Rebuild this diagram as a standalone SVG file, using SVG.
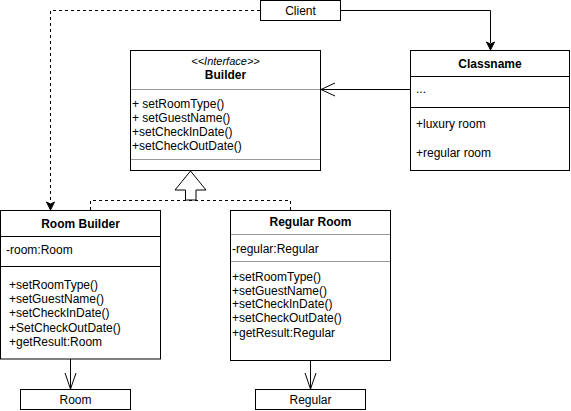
<svg xmlns="http://www.w3.org/2000/svg" width="571" height="411" viewBox="0 0 571 411">
<style>
text{font-family:"Liberation Sans",Arial,sans-serif;font-size:12px;fill:#000}
.b{font-weight:bold}
.c{text-anchor:middle}
.box{fill:#fff;stroke:#000;stroke-width:1}
.div{stroke:#000;stroke-width:1}
.gdiv{stroke:#999;stroke-width:1}
.ln{fill:none;stroke:#000;stroke-width:1}
.dash{fill:none;stroke:#000;stroke-width:1;stroke-dasharray:3 3}
</style>
<rect width="571" height="411" fill="#fff"/>
<g id="connectors">
  <path class="dash" d="M260,10.5 H50.5 V203"/>
  <path d="M50.5,210 L46.5,202 L50.5,204 L54.5,202 Z" fill="#000" stroke="#000"/>
  <path class="ln" d="M340,10.5 H490.5 V43"/>
  <path d="M490.5,50 L486.5,42 L490.5,44 L494.5,42 Z" fill="#000" stroke="#000"/>
  <path class="ln" d="M410,89.5 H321"/>
  <path class="ln" d="M335,83 L321,89.5 L335,96"/>
  <path class="dash" d="M90.5,210 V200.5 H290.5 V210"/>
  <path d="M190.5,171 L206,190 L196,190 L196,200 L185.5,200 L185.5,190 L175,190 Z" fill="#fff" stroke="#000"/>
  <path class="ln" d="M70.5,359 V389"/>
  <path class="ln" d="M65,373 L70.5,389 L76,373"/>
  <path class="ln" d="M310.5,360 V389"/>
  <path class="ln" d="M305,373 L310.5,389 L316,373"/>
</g>
<g id="client">
  <rect class="box" x="260.5" y="0.5" width="80" height="20"/>
  <text class="c" x="300.5" y="14.5">Client</text>
</g>
<g id="builder">
  <rect class="box" x="130.5" y="50.5" width="190" height="120"/>
  <line class="gdiv" x1="131" y1="89.5" x2="320" y2="89.5"/>
  <line class="gdiv" x1="131" y1="159.5" x2="320" y2="159.5"/>
  <text class="c" x="225.5" y="64.5" style="font-style:italic;font-size:11px">&lt;&lt;Interface&gt;&gt;</text>
  <text class="c b" x="225.5" y="79">Builder</text>
  <text x="132" y="107.5">+ setRoomType()</text>
  <text x="132" y="121.5">+ setGuestName()</text>
  <text x="132" y="136">+setCheckInDate()</text>
  <text x="132" y="150">+setCheckOutDate()</text>
</g>
<g id="classname">
  <rect class="box" x="410.5" y="50.5" width="159" height="120"/>
  <line class="div" x1="411" y1="76.5" x2="569" y2="76.5"/>
  <line class="div" x1="411" y1="107.5" x2="569" y2="107.5"/>
  <text class="c" x="490" y="68" font-weight="bold">Classname</text>
  <text x="416" y="93">...</text>
  <text x="416" y="128">+luxury room</text>
  <text x="416" y="157">+regular room</text>
</g>
<g id="room-builder">
  <rect class="box" x="0.5" y="210.5" width="160" height="148.5"/>
  <line class="div" x1="1" y1="236.5" x2="160" y2="236.5"/>
  <line class="div" x1="1" y1="266.5" x2="160" y2="266.5"/>
  <text class="c b" x="80.5" y="228">Room Builder</text>
  <text x="6" y="254">-room:Room</text>
  <text x="9" y="289">+setRoomType()</text>
  <text x="9" y="303">+setGuestName()</text>
  <text x="9" y="317">+setCheckInDate()</text>
  <text x="9" y="331.5">+SetCheckOutDate()</text>
  <text x="9" y="346">+getResult:Room</text>
</g>
<g id="regular-room">
  <rect class="box" x="230.5" y="210.5" width="160" height="150"/>
  <line class="gdiv" x1="231" y1="234.5" x2="390" y2="234.5"/>
  <line class="gdiv" x1="231" y1="261.5" x2="390" y2="261.5"/>
  <text class="c b" x="310.5" y="225.5">Regular Room</text>
  <text x="232" y="253">-regular:Regular</text>
  <text x="232" y="281">+setRoomType()</text>
  <text x="232" y="294.5">+setGuestName()</text>
  <text x="232" y="308">+setCheckInDate()</text>
  <text x="232" y="322">+setCheckOutDate()</text>
  <text x="232" y="337">+getResult:Regular</text>
</g>
<g id="room">
  <rect class="box" x="20.5" y="389.5" width="110" height="20"/>
  <text class="c" x="75.5" y="404">Room</text>
</g>
<g id="regular">
  <rect class="box" x="255.5" y="389.5" width="110" height="20"/>
  <text class="c" x="310.5" y="404">Regular</text>
</g>
</svg>
